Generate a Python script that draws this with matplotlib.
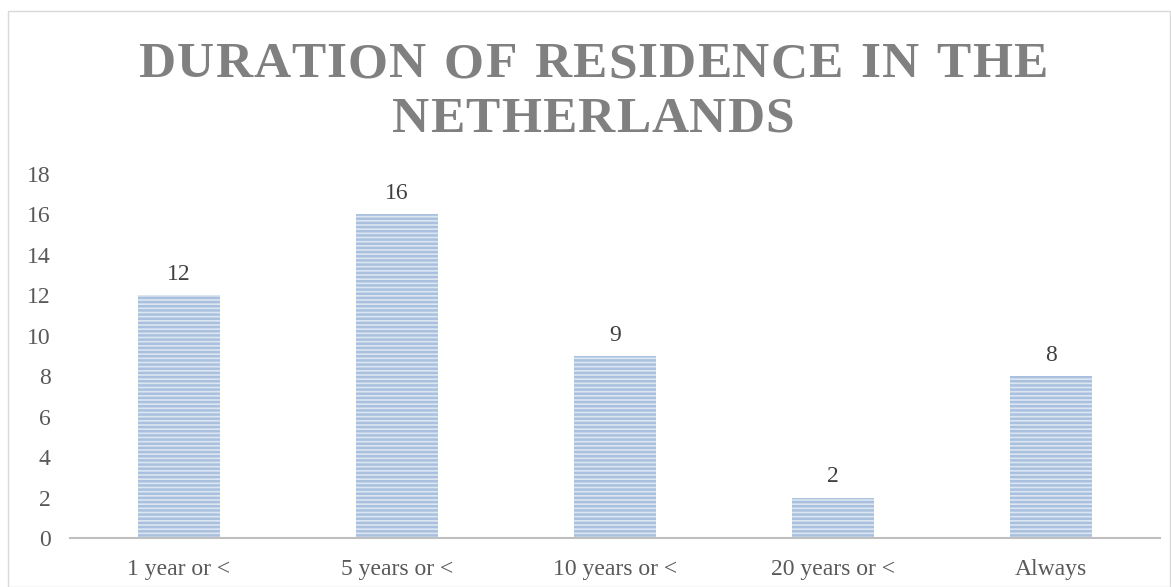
import matplotlib.pyplot as plt
import matplotlib as mpl
from matplotlib.patches import Rectangle

categories = ['1 year or <', '5 years or <', '10 years or <', '20 years or <', 'Always']
counts = [12, 16, 9, 2, 8]
y_ticks = [0, 2, 4, 6, 8, 10, 12, 14, 16, 18]
title_lines = ['DURATION OF RESIDENCE IN THE', 'NETHERLANDS']

plt.rcParams['font.family'] = ['Liberation Serif', 'DejaVu Serif']
mpl.rcParams['hatch.color'] = '#8eadd4'
mpl.rcParams['hatch.linewidth'] = 1.8

W, H = 1171, 587
fig = plt.figure(figsize=(W / 100, H / 100), dpi=100)
# outer chart border
fig.patches.append(Rectangle((8 / W, 0), 1 - 9 / W, 1 - 11 / H,
                             transform=fig.transFigure, fill=False,
                             edgecolor='#d9d9d9', linewidth=1))

ax = fig.add_axes([70 / W, (H - 538) / H, 1090 / W, (538 - 174) / H])
x = range(len(categories))
ax.bar(x, counts, width=0.376, color='#dce6f1', edgecolor='#a9c1de',
       linewidth=0.0, hatch='----')
for xi, v in zip(x, counts):
    ax.annotate(str(v), (xi, v), xytext=(0, 11), textcoords='offset points',
                ha='center', va='baseline', fontsize=17, color='#404040')

ax.set_xlim(-0.5, len(categories) - 0.5)
ax.set_ylim(0, 18)
ax.set_yticks(y_ticks)
ax.set_xticks(list(x))
ax.set_xticklabels(categories)
ax.tick_params(axis='both', length=0, labelsize=17, labelcolor='#595959')
ax.tick_params(axis='y', pad=14)
ax.tick_params(axis='x', pad=15)
for s in ['top', 'right', 'left']:
    ax.spines[s].set_visible(False)
ax.spines['bottom'].set_color('#bfbfbf')
ax.spines['bottom'].set_linewidth(1.5)

# title with wide letter spacing, drawn letter by letter
renderer = fig.canvas.get_renderer()
title_kw = dict(fontsize=37, fontweight='bold', color='#808080', va='baseline', ha='left')


def char_widths(line):
    ws = []
    for ch in line:
        t = fig.text(0, 0, ch if ch != ' ' else 'n', **title_kw)
        w = t.get_window_extent(renderer).width
        if ch == ' ':
            w *= 0.55
        ws.append(w)
        t.remove()
    return ws


w1 = char_widths(title_lines[0])
track = (909 - sum(w1)) / (len(w1) - 1)
for line, yb in zip(title_lines, [77, 132]):
    ws = w1 if line == title_lines[0] else char_widths(line)
    total = sum(ws) + track * (len(ws) - 1)
    px = 593 - total / 2
    for ch, w in zip(line, ws):
        if ch != ' ':
            fig.text(px / W, 1 - yb / H, ch, **title_kw)
        px += w + track

fig.savefig('out.png', dpi=100)
